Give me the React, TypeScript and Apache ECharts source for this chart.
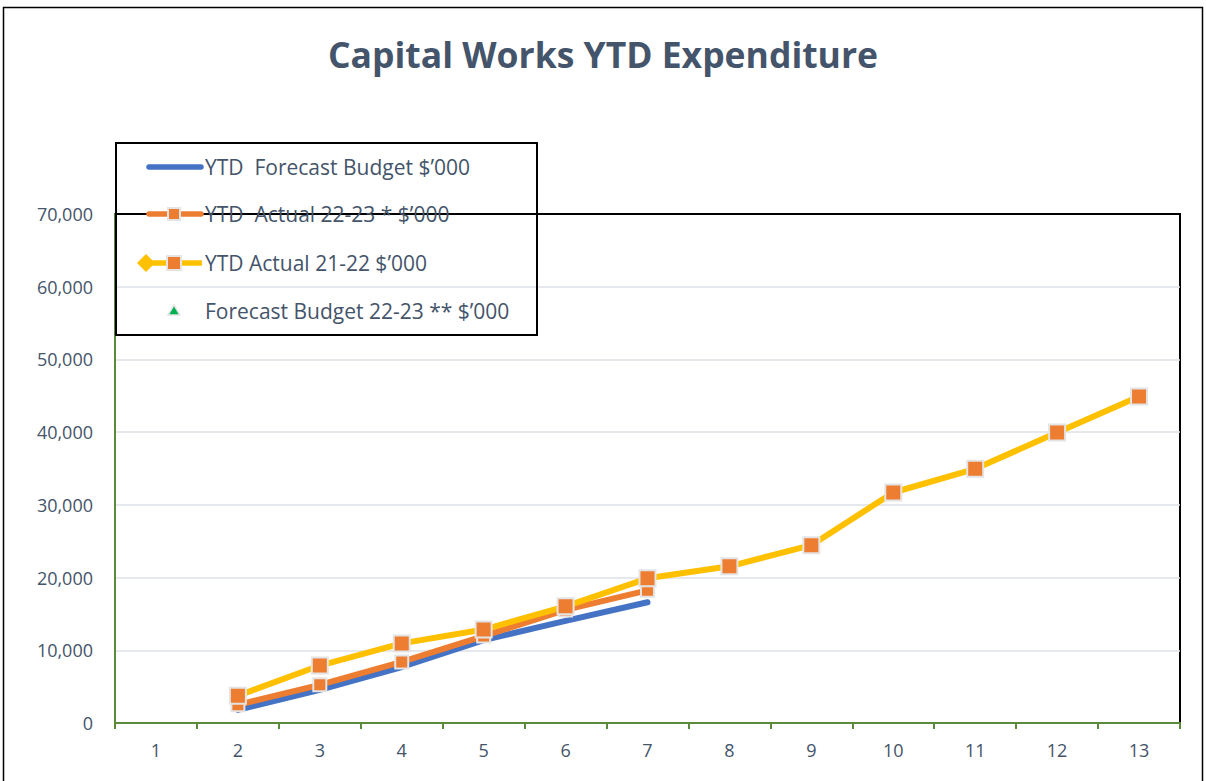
import React, { useEffect, useRef } from "react";
import * as echarts from "echarts";

const periods = ["1", "2", "3", "4", "5", "6", "7", "8", "9", "10", "11", "12", "13"];
const yTicks = [0, 10000, 20000, 30000, 40000, 50000, 60000, 70000];
const forecastBudgetYTD: (number | null)[] = [null, 1800, 4550, 7700, 11400, 14050, 16600, null, null, null, null, null, null];
const actual2223: (number | null)[] = [null, 2500, 5250, 8400, 11950, 15550, 18250, null, null, null, null, null, null];
const actual2122: (number | null)[] = [null, 3750, 7900, 10950, 12850, 16050, 19900, 21550, 24450, 31700, 34950, 39950, 44900];
const forecastBudget2223: (number | null)[] = [null, null, null, null, null, null, null, null, null, null, null, null, null];
const legendNames = [
  "YTD  Forecast Budget $\u2019000",
  "YTD  Actual 22-23 * $\u2019000",
  "YTD Actual 21-22 $\u2019000",
  "Forecast Budget 22-23 ** $\u2019000",
];

const BLUE = "#4472c4";
const ORANGE = "#ed7d31";
const YELLOW = "#ffc000";
const GREEN_AXIS = "#5b8a3a";
const TEXT = "#44546a";
const FONT = "'Open Sans', 'Noto Sans', sans-serif";

export default function App() {
  const ref = useRef<HTMLDivElement>(null);
  useEffect(() => {
    document.body.style.margin = "0";
    const chart = echarts.init(ref.current!, undefined, { renderer: "svg" });
    const markerStyle = (c: string) => ({ color: c, borderColor: "#e4e4e4", borderWidth: 2 });
    const lx = 146, tx = 205;
    const rows = [167, 214, 263, 311];
    const legendGraphics: any[] = [
      { type: "rect", shape: { x: 116, y: 143, width: 421, height: 192 }, style: { fill: "none", stroke: "#000", lineWidth: 2 }, z: 10 },
      { type: "line", shape: { x1: lx + 3, y1: rows[0], x2: 201, y2: rows[0] }, style: { stroke: BLUE, lineWidth: 5.5, lineCap: "round" }, z: 10 },
      { type: "line", shape: { x1: lx + 3, y1: rows[1], x2: 201, y2: rows[1] }, style: { stroke: ORANGE, lineWidth: 5.5, lineCap: "round" }, z: 10 },
      { type: "rect", shape: { x: 168, y: rows[1] - 6, width: 12, height: 12 }, style: { fill: ORANGE, stroke: "#e4e4e4", lineWidth: 2 }, z: 11 },
      { type: "line", shape: { x1: lx, y1: rows[2], x2: 202, y2: rows[2] }, style: { stroke: YELLOW, lineWidth: 5.5 }, z: 10 },
      { type: "polygon", shape: { points: [[lx, rows[2] - 9], [lx + 9, rows[2]], [lx, rows[2] + 9], [lx - 9, rows[2]]] }, style: { fill: YELLOW }, z: 11 },
      { type: "rect", shape: { x: 167, y: rows[2] - 7, width: 14, height: 14 }, style: { fill: ORANGE, stroke: "#e4e4e4", lineWidth: 2 }, z: 11 },
      { type: "polygon", shape: { points: [[174, rows[3] - 6], [180, rows[3] + 4], [168, rows[3] + 4]] }, style: { fill: "#00b050", stroke: "#e4e4e4", lineWidth: 1.5 }, z: 11 },
    ];
    legendNames.forEach((n, i) => {
      legendGraphics.push({
        type: "text", x: tx, y: rows[i], z: 11,
        style: { text: n, font: `21px ${FONT}`, fill: TEXT, textVerticalAlign: "middle", verticalAlign: "middle" },
      });
    });
    chart.setOption({
      animation: false,
      backgroundColor: "#fff",
      title: {
        text: "Capital Works YTD Expenditure",
        left: "center",
        top: 31,
        textStyle: { fontFamily: FONT, fontSize: 35.5, fontWeight: "bold", color: TEXT },
      },
      grid: { left: 115, right: 26, top: 214, bottom: 58, show: true, borderColor: "#000", borderWidth: 2, backgroundColor: "transparent" },
      xAxis: {
        type: "category",
        data: periods,
        boundaryGap: true,
        axisLine: { lineStyle: { color: GREEN_AXIS, width: 2 } },
        axisTick: { show: true, length: 6, lineStyle: { color: GREEN_AXIS, width: 2 } },
        axisLabel: { color: TEXT, fontFamily: FONT, fontSize: 18, margin: 18 },
        splitLine: { show: false },
      },
      yAxis: {
        type: "value",
        min: 0,
        max: 70000,
        interval: 10000,
        axisLine: { show: true, lineStyle: { color: GREEN_AXIS, width: 2 } },
        axisTick: { show: false },
        axisLabel: {
          color: TEXT, fontFamily: FONT, fontSize: 18, margin: 22,
          formatter: (v: number) => (yTicks.includes(v) ? v.toLocaleString("en-US") : ""),
        },
        splitLine: { showMaxLine: false, showMinLine: false, lineStyle: { color: "#dde2e7", width: 1.5 } },
      },
      series: [
        {
          name: legendNames[0], type: "line", data: forecastBudgetYTD, showSymbol: false, symbol: "none",
          lineStyle: { color: BLUE, width: 6, cap: "round" }, itemStyle: { color: BLUE }, z: 2,
        },
        {
          name: legendNames[1], type: "line", data: actual2223, symbol: "rect", symbolSize: 13,
          lineStyle: { color: ORANGE, width: 6, cap: "round" }, itemStyle: markerStyle(ORANGE), z: 3,
        },
        {
          name: legendNames[2], type: "line", data: actual2122, symbol: "rect", symbolSize: 16,
          lineStyle: { color: YELLOW, width: 6 }, itemStyle: markerStyle(ORANGE), z: 4,
        },
        {
          name: legendNames[3], type: "scatter", data: forecastBudget2223, symbol: "triangle", symbolSize: 10,
          itemStyle: { color: "#00b050", borderColor: "#e4e4e4", borderWidth: 1.5 }, z: 5,
        },
      ],
      graphic: [
        { type: "rect", shape: { x: 3.5, y: 7.5, width: 1199, height: 800 }, style: { fill: "none", stroke: "#000", lineWidth: 1.5 }, z: 20, silent: true },
        ...legendGraphics,
      ],
    });
    return () => chart.dispose();
  }, []);
  return <div ref={ref} style={{ position: "fixed", left: 0, top: 0, width: 1206, height: 781 }} />;
}
